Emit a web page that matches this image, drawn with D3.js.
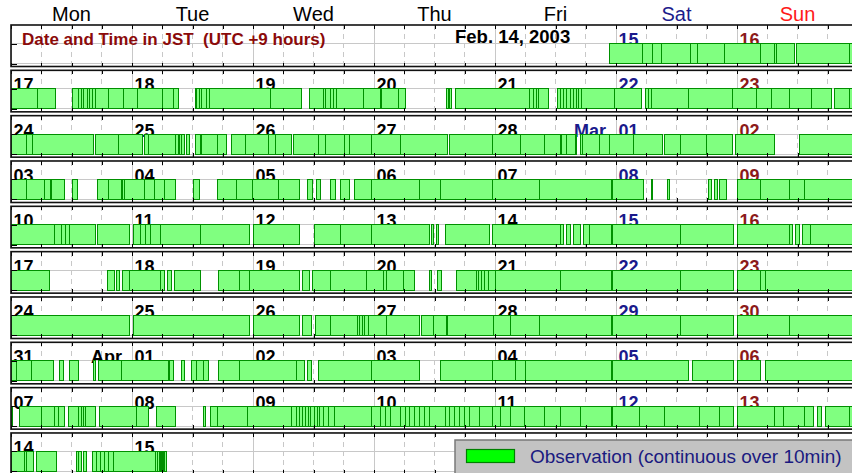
<!DOCTYPE html>
<html><head><meta charset="utf-8">
<script src="https://cdn.jsdelivr.net/npm/d3@7"></script>
<style>
body{margin:0;background:#fff}
svg{display:block}
text{font-family:"Liberation Sans",Arial,Helvetica,sans-serif}
</style>
</head><body>
<svg id="chart" width="852" height="473"></svg>
<script>
// ---------- DATA ----------
const weekdays = ["Mon","Tue","Wed","Thu","Fri","Sat","Sun"];
const dateLabels = [
  [null,null,null,null,null,"15","16"],
  ["17","18","19","20","21","22","23"],
  ["24","25","26","27","28","01","02"],
  ["03","04","05","06","07","08","09"],
  ["10","11","12","13","14","15","16"],
  ["17","18","19","20","21","22","23"],
  ["24","25","26","27","28","29","30"],
  ["31","01","02","03","04","05","06"],
  ["07","08","09","10","11","12","13"],
  ["14","15",null,null,null,null,null]
];
const monthMarks = [{row:2, day:5, text:"Mar."},{row:7, day:1, text:"Apr."}];
const headerTitle = "Date and Time in JST  (UTC +9 hours)";
const headerDate = "Feb. 14, 2003";
const legendLabel = "Observation (continuous over 10min)";
const hourTicks = d3.range(0, 169, 6);

// observation intervals, hours from Monday 00:00 JST of each week row
const obsWeek0 = [[118.8,125.2],[125.2,127.3],[127.3,129.1],[129.1,134.7],[134.7,136.1],[136.1,141.6],[141.6,148.6],[148.6,151.5],[151.5,151.9],[151.9,155.5],[155.9,166.4],[166.4,168]];
const obsWeek1 = [[0,5.3],[5.3,8.8],[12.2,13.4],[13.4,14],[14,14.3],[14.3,15.1],[15.1,15.5],[15.5,16.2],[16.2,16.8],[16.8,19.3],[19.3,22.4],[22.4,25.1],[25.1,30],[30,32.2],[32.2,33.2],[36.5,36.8],[36.8,37.4],[37.4,37.8],[37.8,38.7],[38.7,39.3],[39.3,51.4],[51.4,57.7],[59.3,61.9],[61.9,62.3],[62.3,63.3],[63.3,63.9],[63.9,64.5],[64.5,69.9],[69.9,73.2],[73.2,73.5],[73.5,76.8],[76.8,78.2],[86.4,86.7],[87,87.3],[88.1,102.9],[102.9,103.6],[103.6,104.3],[104.3,104.6],[104.6,106.6],[108.4,108.9],[108.9,109.6],[109.6,110.2],[110.2,110.9],[110.9,111.5],[111.5,112.1],[112.1,112.6],[112.6,113.2],[113.2,119.8],[119.8,125.1],[125.8,126.4],[126.4,127.1],[127.1,134.3],[134.3,143.2],[143.2,147.9],[147.9,150.9],[150.9,154.5],[154.5,158.8],[158.8,162.8],[163.4,166.4],[166.4,168]];
const obsWeek2 = [[0,3],[3,4.3],[4.3,16.3],[16.8,21.3],[21.3,26.1],[26.4,27.2],[27.2,32.7],[32.7,33.2],[33.2,33.5],[33.5,33.9],[33.9,34.5],[34.9,35.5],[36.6,37.5],[37.7,41],[41,42.8],[43.8,46.6],[46.6,51],[51,52.4],[52.4,55.7],[56.1,60.9],[60.9,62.3],[62.3,66.2],[66.2,67.2],[67.2,71.6],[71.6,77.2],[77.2,86.5],[86.9,95.6],[95.6,101],[101,105.9],[105.9,108.9],[108.9,109.2],[109.2,110.2],[110.2,111.9],[111.9,112.2],[112.9,113.4],[113.4,116.8],[116.8,118.8],[118.8,123.4],[123.4,129.3],[129.7,132.7],[132.7,138],[138,143.2],[143.8,151.5],[156.4,168]];
const obsWeek3 = [[0,3],[3,6.6],[6.6,7.8],[8.1,10.6],[12.2,13.2],[17.1,19.3],[19.3,22],[22,22.2],[22.2,22.6],[22.6,26.5],[26.5,28.4],[28.4,30.5],[30.5,32.7],[36.2,37.3],[40.9,44.8],[44.8,47.9],[47.9,53],[53,57.3],[58.9,59.9],[60.5,61.3],[63.3,64.3],[65.3,67.2],[68.2,71.6],[71.6,81.1],[81.1,85.1],[85.1,95.6],[95.6,104.9],[104.9,119.2],[119.4,125.4],[127,127.3],[130.3,130.7],[138.4,139],[139.6,140.2],[140.6,142],[144,148.6],[148.6,154.5],[154.5,157.4],[157.4,168]];
const obsWeek4 = [[0,8.7],[8.7,10.1],[10.1,10.9],[10.9,11.7],[11.7,16.7],[17.1,23.6],[24.2,25.6],[25.6,26.6],[26.6,27.6],[27.6,29.6],[29.6,37.5],[37.5,47.4],[48,57.3],[60.1,65.3],[65.3,71.6],[71.6,83.1],[83.5,83.9],[84.3,84.7],[86.1,95],[95.6,108.9],[108.9,109.5],[110.1,110.9],[111.5,112.9],[113.5,114.8],[114.8,119.2],[119.4,132.7],[132.7,143.4],[144,154.5],[154.5,155.1],[155.7,156.4],[157,158.5],[158.5,168]];
const obsWeek5 = [[0,7.7],[19.2,20.6],[21,21.6],[22.2,23.6],[23.6,29.6],[29.6,30.5],[31.1,31.9],[32.5,37.5],[41.1,45.4],[45.4,47.4],[47.4,57.3],[57.9,59.3],[59.9,63.3],[63.3,70.6],[70.6,73.8],[73.8,74.4],[74.4,77.8],[77.8,80.1],[83.1,83.4],[84.6,85.4],[88.4,92.4],[92.4,92.7],[92.7,93.4],[93.4,94],[94,94.7],[94.7,96],[96,108.9],[108.9,119.2],[119.4,132.7],[132.7,143.4],[144,148.6],[148.6,149.6],[149.6,168]];
const obsWeek6 = [[0,23.6],[24.2,47.4],[48,57.3],[57.9,59.7],[60.3,63.3],[63.3,68.8],[68.8,69.2],[69.2,69.8],[69.8,70.2],[70.2,70.9],[70.9,74.4],[74.4,81],[81.5,83.9],[83.9,86.3],[86.3,86.5],[86.5,95.7],[95.7,99],[99,104.9],[104.9,119.2],[119.4,132.7],[132.7,143.4],[144,154.5],[154.5,168]];
const obsWeek7 = [[0,1.1],[1.1,4.1],[4.1,8.4],[9.7,10.4],[11.7,13.3],[16.3,16.7],[17.3,22],[22,31.2],[31.2,31.5],[31.5,32.2],[33.9,34.5],[35.9,36.8],[36.8,38.1],[38.1,39.1],[41.1,45.4],[45.4,56.7],[56.7,58.3],[58.9,59.7],[60.9,71.6],[71.6,81.1],[85.1,95.6],[95.6,100],[100,102],[102,119.2],[119.4,134.3],[135.1,143.4],[144,148.6],[149.6,168]];
const obsWeek8 = [[0,0.3],[1.6,6.1],[6.1,8.7],[8.7,9.4],[9.4,10.6],[11.4,13.3],[13.3,14],[14,14.3],[14.3,14.7],[14.7,16.8],[17.5,24.9],[24.9,27.2],[28.8,32.6],[38.1,38.5],[39.5,41],[41,47],[47,55.7],[55.7,56.7],[56.7,57.3],[57.3,57.8],[57.8,58.4],[58.4,59],[59,59.5],[59.5,60.1],[60.1,60.7],[60.7,61.2],[61.2,62],[62,63],[63,64.2],[64.2,71.6],[71.6,73.2],[73.2,74.2],[74.2,75.2],[75.2,77.2],[77.2,78.2],[78.2,79.1],[79.1,80.1],[80.1,81.1],[81.1,82.1],[82.1,83.1],[83.1,86.1],[86.1,87],[87,88],[88,89],[89,90],[90,91],[91,93],[93,95.6],[95.6,97],[97,99],[99,101.9],[101.9,105.9],[105.9,108.9],[108.9,112.9],[112.9,119.2],[119.4,124.7],[124.7,129.7],[129.7,136.6],[136.6,140.6],[140.6,143.4],[144,151.5],[151.5,153.2],[153.2,157.4],[157.4,159.1],[160,160.7],[161.5,166.4],[166.4,168]];
const obsWeek9 = [[0,2.6],[2.6,3.1],[3.1,4.4],[5.1,9.1],[13,13.3],[13.4,14],[14.3,15],[16.1,16.9],[16.9,17.7],[17.7,18.5],[18.5,19.3],[19.3,20.3],[20.3,28.6],[28.7,29],[29.1,29.4],[29.6,29.9],[30,30.3],[30.4,30.9]];
const observations = [obsWeek0,obsWeek1,obsWeek2,obsWeek3,obsWeek4,obsWeek5,obsWeek6,obsWeek7,obsWeek8,obsWeek9];

// ---------- STYLE ----------
const C = {
  weekday:["#000","#000","#000","#000","#000","#1c1c8c","#ff1a1a"],
  date:["#000","#000","#000","#000","#000","#1a1a8c","#8c1a1a"],
  title:"#8b0a0a", grid:"#c8c8c8", barFill:"#80ff80", barStroke:"#009000",
  legendFill:"#c3c3c3", legendStroke:"#7a7a7a", legendText:"#1a1a80"
};

const svg = d3.select("#chart");
const x = d3.scaleLinear().domain([0,168]).range([11,858]);
const rowTop = d3.scaleLinear().domain([0,10]).range([25,478.3]);
const panelH = 41.5;
const y = d3.scaleLinear().domain([0,1]).range([38.5,18.5]);

// weekday headers
svg.append("g").selectAll("text").data(weekdays).join("text")
  .attr("x",(d,i)=>x(i*24+12)).attr("y",21)
  .attr("text-anchor","middle").attr("font-size",20)
  .attr("fill",(d,i)=>C.weekday[i]).text(d=>d);

observations.forEach((obs,r)=>{
  const g = svg.append("g").attr("transform",`translate(0,${rowTop(r)})`);
  g.append("g").selectAll("line").data(hourTicks).join("line")
    .attr("x1",d=>x(d)).attr("x2",d=>x(d)).attr("y1",0).attr("y2",panelH)
    .attr("stroke",C.grid).attr("stroke-width",1)
    .attr("stroke-dasharray",d=>d%24===0?null:"5,4")
    .attr("shape-rendering","crispEdges");
  g.append("g").selectAll("line").data([0,1]).join("line")
    .attr("x1",x(0)).attr("x2",x(168)).attr("y1",d=>y(d)).attr("y2",d=>y(d))
    .attr("stroke",C.grid).attr("shape-rendering","crispEdges");
  g.append("g").selectAll("text").data(dateLabels[r].map((t,i)=>({t,i})).filter(d=>d.t))
    .join("text").attr("x",d=>x(d.i*24)+2.5).attr("y",21)
    .attr("font-size",18).attr("font-weight","bold")
    .attr("fill",d=>C.date[d.i]).text(d=>d.t);
  monthMarks.filter(m=>m.row===r).forEach(m=>{
    g.append("text").attr("x",x(m.day*24)-6).attr("y",21)
      .attr("text-anchor","end").attr("font-size",18).attr("font-weight","bold")
      .attr("fill",C.date[m.day]).text(m.text);
  });
  if(r===0){
    g.append("text").attr("x",22).attr("y",20).attr("font-size",17).attr("font-weight","bold")
      .attr("fill",C.title).style("white-space","pre").text(headerTitle);
    g.append("text").attr("x",455).attr("y",17.7).attr("font-size",18.5).attr("font-weight","bold")
      .attr("fill","#000").text(headerDate);
  }
  g.append("g").selectAll("rect").data(obs).join("rect")
    .attr("x",d=>x(d[0])).attr("width",d=>Math.max(0.5,x(d[1])-x(d[0])))
    .attr("y",y(1)).attr("height",y(0)-y(1))
    .attr("fill",C.barFill).attr("stroke",C.barStroke).attr("stroke-width",1)
    .attr("shape-rendering","crispEdges");
  const top = g.append("g").call(d3.axisTop(x).tickValues(hourTicks).tickSize(-4).tickFormat(""));
  const bot = g.append("g").attr("transform",`translate(0,${panelH})`)
    .call(d3.axisBottom(x).tickValues(hourTicks).tickSize(-4).tickFormat(""));
  const lft = g.append("g").attr("transform",`translate(${x(0)},0)`)
    .call(d3.axisLeft(y).tickValues([0,1]).tickSize(-6).tickFormat(""));
  [top,bot,lft].forEach(a=>{a.select(".domain").remove();a.selectAll("line").attr("stroke","#000").attr("shape-rendering","crispEdges");});
  g.append("rect").attr("x",x(0)).attr("y",0).attr("width",x(168)-x(0)).attr("height",panelH)
    .attr("fill","none").attr("stroke","#111").attr("stroke-width",1.6);
});

// legend
const lg = svg.append("g");
lg.append("rect").attr("x",455).attr("y",440).attr("width",410).attr("height",50)
  .attr("fill",C.legendFill).attr("stroke",C.legendStroke).attr("stroke-width",1.5);
lg.append("rect").attr("x",466.5).attr("y",449.5).attr("width",48).attr("height",13)
  .attr("fill","#00ff00").attr("stroke","#008000").attr("stroke-width",1.2);
lg.append("text").attr("x",530).attr("y",463).attr("font-size",19)
  .attr("fill",C.legendText).text(legendLabel);
</script>
</body></html>
